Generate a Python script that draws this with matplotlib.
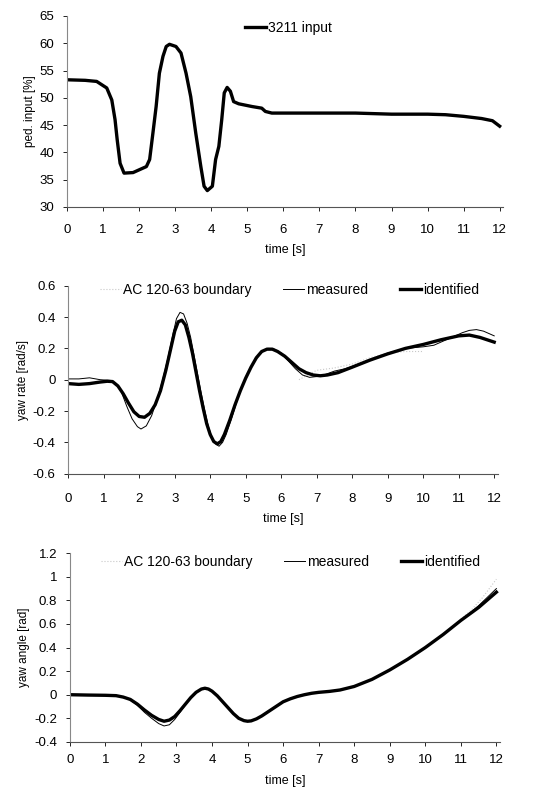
#pedal 3211 input and yaw response - recreated figure
import matplotlib.pyplot as plt

plt.rcParams['font.family'] = ['Liberation Sans', 'DejaVu Sans']
plt.rcParams['font.size'] = 9

#pedal input data
t_ped = [0, 0.5, 0.82, 1.1, 1.24, 1.33, 1.39, 1.47, 1.58, 1.83, 2.2, 2.29, 2.38, 2.47, 2.56, 2.66,
         2.75, 2.84, 3.02, 3.16, 3.3, 3.43, 3.57, 3.71, 3.8, 3.89, 4.03, 4.12, 4.21, 4.29, 4.36,
         4.44, 4.53, 4.62, 4.76, 5.13, 5.4, 5.5, 5.68, 6, 7, 8, 9, 10, 10.5, 11, 11.5, 11.8, 12.0]
ped = [53.3, 53.2, 53.0, 51.8, 49.6, 46.0, 42.3, 38.0, 36.2, 36.3, 37.4, 38.7, 43.5, 48.4, 54.5,
       57.6, 59.4, 59.8, 59.4, 58.2, 54.5, 50.2, 43.5, 37.4, 33.8, 33.0, 33.8, 38.7, 41.1, 46.0,
       50.9, 51.9, 51.2, 49.3, 48.9, 48.4, 48.1, 47.5, 47.2, 47.2, 47.2, 47.2, 47.0, 47.0, 46.9,
       46.6, 46.2, 45.8, 44.8]

#yaw rate data
t_rate_id = [0, 0.3, 0.6, 0.9, 1.1, 1.25, 1.4, 1.55, 1.7, 1.85, 2.0, 2.15, 2.3, 2.45, 2.6, 2.75,
             2.9, 3.0, 3.1, 3.2, 3.3, 3.4, 3.5, 3.6, 3.7, 3.8, 3.9, 4.0, 4.1, 4.2, 4.3, 4.4, 4.55,
             4.7, 4.85, 5.0, 5.15, 5.3, 5.45, 5.6, 5.75, 5.9, 6.1, 6.3, 6.5, 6.7, 6.9, 7.1, 7.3,
             7.6, 8.0, 8.5, 9.0, 9.5, 10.0, 10.5, 11.0, 11.3, 11.6, 11.8, 12.0]
rate_id = [-0.025, -0.03, -0.025, -0.015, -0.01, -0.012, -0.04, -0.09, -0.15, -0.205, -0.235,
           -0.24, -0.215, -0.16, -0.07, 0.06, 0.21, 0.31, 0.37, 0.38, 0.35, 0.27, 0.17, 0.05,
           -0.07, -0.18, -0.28, -0.35, -0.395, -0.41, -0.395, -0.35, -0.26, -0.16, -0.07, 0.01,
           0.08, 0.14, 0.18, 0.195, 0.195, 0.18, 0.15, 0.11, 0.07, 0.045, 0.03, 0.025, 0.03,
           0.045, 0.08, 0.125, 0.165, 0.2, 0.225, 0.255, 0.28, 0.285, 0.27, 0.255, 0.24]
t_rate_me = [0, 0.3, 0.6, 0.9, 1.2, 1.35, 1.5, 1.65, 1.8, 1.95, 2.05, 2.2, 2.35, 2.5, 2.65, 2.8,
             2.95, 3.05, 3.15, 3.25, 3.35, 3.45, 3.55, 3.65, 3.75, 3.85, 3.95, 4.05, 4.15, 4.25,
             4.35, 4.45, 4.6, 4.75, 4.9, 5.05, 5.2, 5.35, 5.5, 5.65, 5.8, 6.0, 6.2, 6.4, 6.6, 6.8,
             7.0, 7.2, 7.5, 7.8, 8.0, 8.5, 9.0, 9.5, 10.0, 10.3, 10.6, 10.9, 11.1, 11.3, 11.5,
             11.7, 11.9, 12.0]
rate_me = [0.005, 0.005, 0.012, 0.0, -0.005, -0.025, -0.08, -0.17, -0.25, -0.3, -0.315, -0.295,
           -0.23, -0.13, -0.01, 0.13, 0.29, 0.39, 0.43, 0.42, 0.36, 0.27, 0.15, 0.03, -0.09, -0.2,
           -0.3, -0.37, -0.41, -0.425, -0.4, -0.35, -0.25, -0.14, -0.04, 0.04, 0.1, 0.15, 0.185,
           0.2, 0.195, 0.17, 0.12, 0.07, 0.03, 0.015, 0.02, 0.03, 0.055, 0.07, 0.085, 0.13, 0.17,
           0.2, 0.21, 0.22, 0.25, 0.28, 0.3, 0.315, 0.32, 0.31, 0.29, 0.28]
#faint boundary traces (only partly visible in the scan)
t_rate_bnd = [6.5, 7.0, 7.5, 8.0, 8.5, 9.0, 9.5, 10.0]
rate_bnd = [0.0, 0.06, 0.075, 0.1, 0.14, 0.17, 0.18, 0.18]

#yaw angle data
t_ang = [0, 0.5, 1.0, 1.3, 1.5, 1.7, 1.9, 2.1, 2.3, 2.5, 2.65, 2.8, 2.95, 3.1, 3.25, 3.4, 3.55,
         3.7, 3.8, 3.9, 4.0, 4.15, 4.3, 4.45, 4.6, 4.75, 4.9, 5.0, 5.1, 5.25, 5.4, 5.6, 5.8, 6.0,
         6.2, 6.4, 6.6, 6.8, 7.0, 7.3, 7.6, 8.0, 8.5, 9.0, 9.5, 10.0, 10.5, 11.0, 11.5, 12.0]
ang_id = [0.0, -0.003, -0.005, -0.008, -0.02, -0.04, -0.08, -0.13, -0.175, -0.21, -0.225, -0.215,
          -0.185, -0.135, -0.08, -0.025, 0.02, 0.048, 0.055, 0.048, 0.03, -0.01, -0.06, -0.11,
          -0.16, -0.2, -0.22, -0.225, -0.222, -0.205, -0.18, -0.14, -0.1, -0.06, -0.035, -0.015,
          0.0, 0.012, 0.02, 0.028, 0.04, 0.07, 0.13, 0.21, 0.3, 0.4, 0.51, 0.63, 0.74, 0.87]
ang_me = [0.0, -0.003, -0.005, -0.008, -0.02, -0.045, -0.09, -0.15, -0.2, -0.245, -0.265, -0.255,
          -0.21, -0.15, -0.085, -0.025, 0.02, 0.048, 0.055, 0.048, 0.03, -0.01, -0.06, -0.11,
          -0.16, -0.2, -0.22, -0.225, -0.222, -0.205, -0.18, -0.14, -0.1, -0.06, -0.035, -0.015,
          0.0, 0.012, 0.02, 0.028, 0.04, 0.07, 0.13, 0.21, 0.3, 0.4, 0.51, 0.63, 0.755, 0.9]
t_ang_bnd = [11.0, 11.3, 11.6, 12.0]
ang_bnd = [0.64, 0.72, 0.82, 0.98]

xticks = list(range(0, 13))
bnd_col = '#c8c8c8'


def style(ax, ylim, yticks, ylabels, ylabel, xpad):
    #excel look: only left and bottom axis, small outside ticks
    ax.set_xlim(0, 12.1)
    ax.set_ylim(ylim)
    ax.set_xticks(xticks)
    ax.set_yticks(yticks)
    ax.set_yticklabels(ylabels)
    ax.spines['top'].set_visible(False)
    ax.spines['right'].set_visible(False)
    ax.spines['left'].set_color('#888888')
    ax.spines['bottom'].set_color('#555555')
    ax.tick_params(direction='out', length=3, width=0.6, labelsize=9.5, pad=6)
    ax.tick_params(axis='x', pad=xpad)
    ax.set_xlabel('time [s]', fontsize=9, labelpad=6)
    ax.set_ylabel(ylabel, fontsize=8.5, labelpad=3)


def legend(ax, x, y, ncol):
    ax.legend(loc='center left', bbox_to_anchor=(x, y), ncol=ncol, frameon=False, fontsize=10,
              borderpad=0, borderaxespad=0, handlelength=1.5, handletextpad=0.15,
              columnspacing=2.3)


fig = plt.figure(figsize=(5.5, 7.96), dpi=100)

#top panel - pedal input
ax1 = fig.add_axes([0.122, 0.740, 0.793, 0.240])
ax1.plot(t_ped, ped, color='black', lw=2.4, label='3211 input')
style(ax1, (30, 65), [30, 35, 40, 45, 50, 55, 60, 65],
      ['30', '35', '40', '45', '50', '55', '60', '65'], 'ped. input [%]', 9)
legend(ax1, 0.408, 0.937, 1)

#middle panel - yaw rate
ax2 = fig.add_axes([0.124, 0.405, 0.781, 0.236])
ax2.plot(t_rate_bnd, rate_bnd, color=bnd_col, lw=0.8, ls=':', label='AC 120-63 boundary')
ax2.plot(t_rate_me, rate_me, color='black', lw=0.7, label='measured')
ax2.plot(t_rate_id, rate_id, color='black', lw=2.4, label='identified')
style(ax2, (-0.6, 0.6), [-0.6, -0.4, -0.2, 0, 0.2, 0.4, 0.6],
      ['-0.6', '-0.4', '-0.2', '0', '0.2', '0.4', '0.6'], 'yaw rate [rad/s]', 11)
legend(ax2, 0.074, 0.979, 3)

#bottom panel - yaw angle
ax3 = fig.add_axes([0.127, 0.068, 0.782, 0.237])
ax3.plot(t_ang_bnd, ang_bnd, color=bnd_col, lw=0.8, ls=':', label='AC 120-63 boundary')
ax3.plot(t_ang, ang_me, color='black', lw=0.7, label='measured')
ax3.plot(t_ang, ang_id, color='black', lw=2.4, label='identified')
style(ax3, (-0.4, 1.2), [-0.4, -0.2, 0, 0.2, 0.4, 0.6, 0.8, 1.0, 1.2],
      ['-0.4', '-0.2', '0', '0.2', '0.4', '0.6', '0.8', '1', '1.2'], 'yaw angle [rad]', 6)
legend(ax3, 0.072, 0.952, 3)

fig.savefig('out.png', dpi=100)
